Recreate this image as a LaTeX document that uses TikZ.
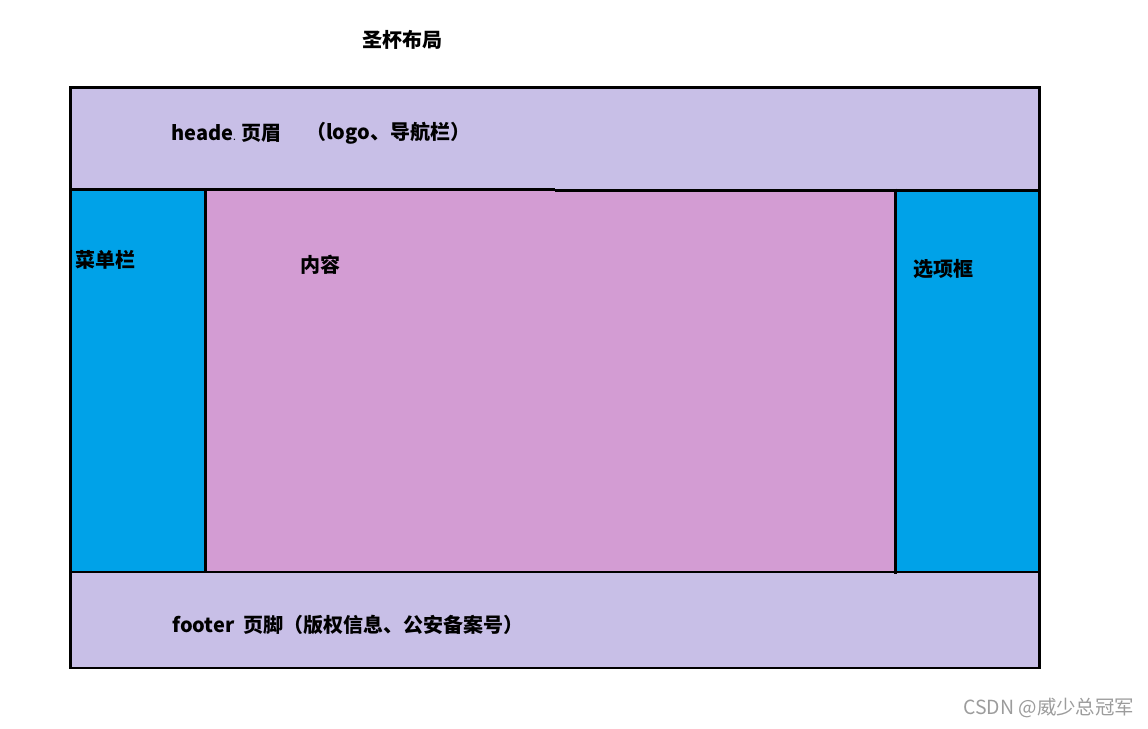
\documentclass[tikz,border=0pt]{standalone}
\usepackage{fontspec}
\setmainfont{Noto Sans CJK SC}
\definecolor{lavender}{HTML}{C8BFE7}
\definecolor{turquoise}{HTML}{00A2E8}
\definecolor{orchid}{HTML}{D39CD3}
\definecolor{markgray}{HTML}{9C9C9C}
\begin{document}
\begin{tikzpicture}[x=0.75pt,y=-0.75pt]
\tikzstyle{every node}+=[inner sep=0pt]
\tikzstyle{lbl}=[anchor=west,font=\bfseries\fontsize{15}{18}\selectfont]
\tikzstyle{edge}=[black,line width=2.2pt]
\useasboundingbox (0,0) rectangle (1148,728);
\fill [lavender] (70.5,87.5) rectangle (1039.5,189.7);
\fill [turquoise] (70.5,189.7) rectangle (205.3,572);
\fill [orchid] (205.3,189.7) rectangle (895.3,572);
\fill [turquoise] (895.3,189.7) rectangle (1039.5,572);
\fill [lavender] (70.5,572) rectangle (1039.5,668);
\draw [edge] (70.5,87.5) rectangle (1039.5,668);
\draw [edge] (70.5,189.7) -- (555,189.7);
\draw [edge] (555,190.8) -- (1039.5,190.8);
\draw [edge] (205.3,189.7) -- (205.3,572);
\draw [edge] (895.3,188.5) -- (895.3,573.5);
\draw [edge] (70.5,572) -- (1039.5,572);
\node [lbl] (title) at (362,40) {圣杯布局};
\node [lbl] (head) at (171,133) {heade{\tiny.} 页眉};
\node [lbl] (headnote) at (306,133) {（logo、导航栏）};
\node [lbl] (menu) at (75,260) {菜单栏};
\node [lbl] (main) at (300,265) {内容};
\node [lbl] (opts) at (913,269) {选项框};
\node [lbl] (foot) at (172,625) {footer\ \ 页脚（版权信息、公安备案号）};
\node [anchor=west,text=markgray,font=\fontsize{14.6}{17}\selectfont] (mark) at (963,708) {CSDN @威少总冠军};
\end{tikzpicture}
\end{document}
